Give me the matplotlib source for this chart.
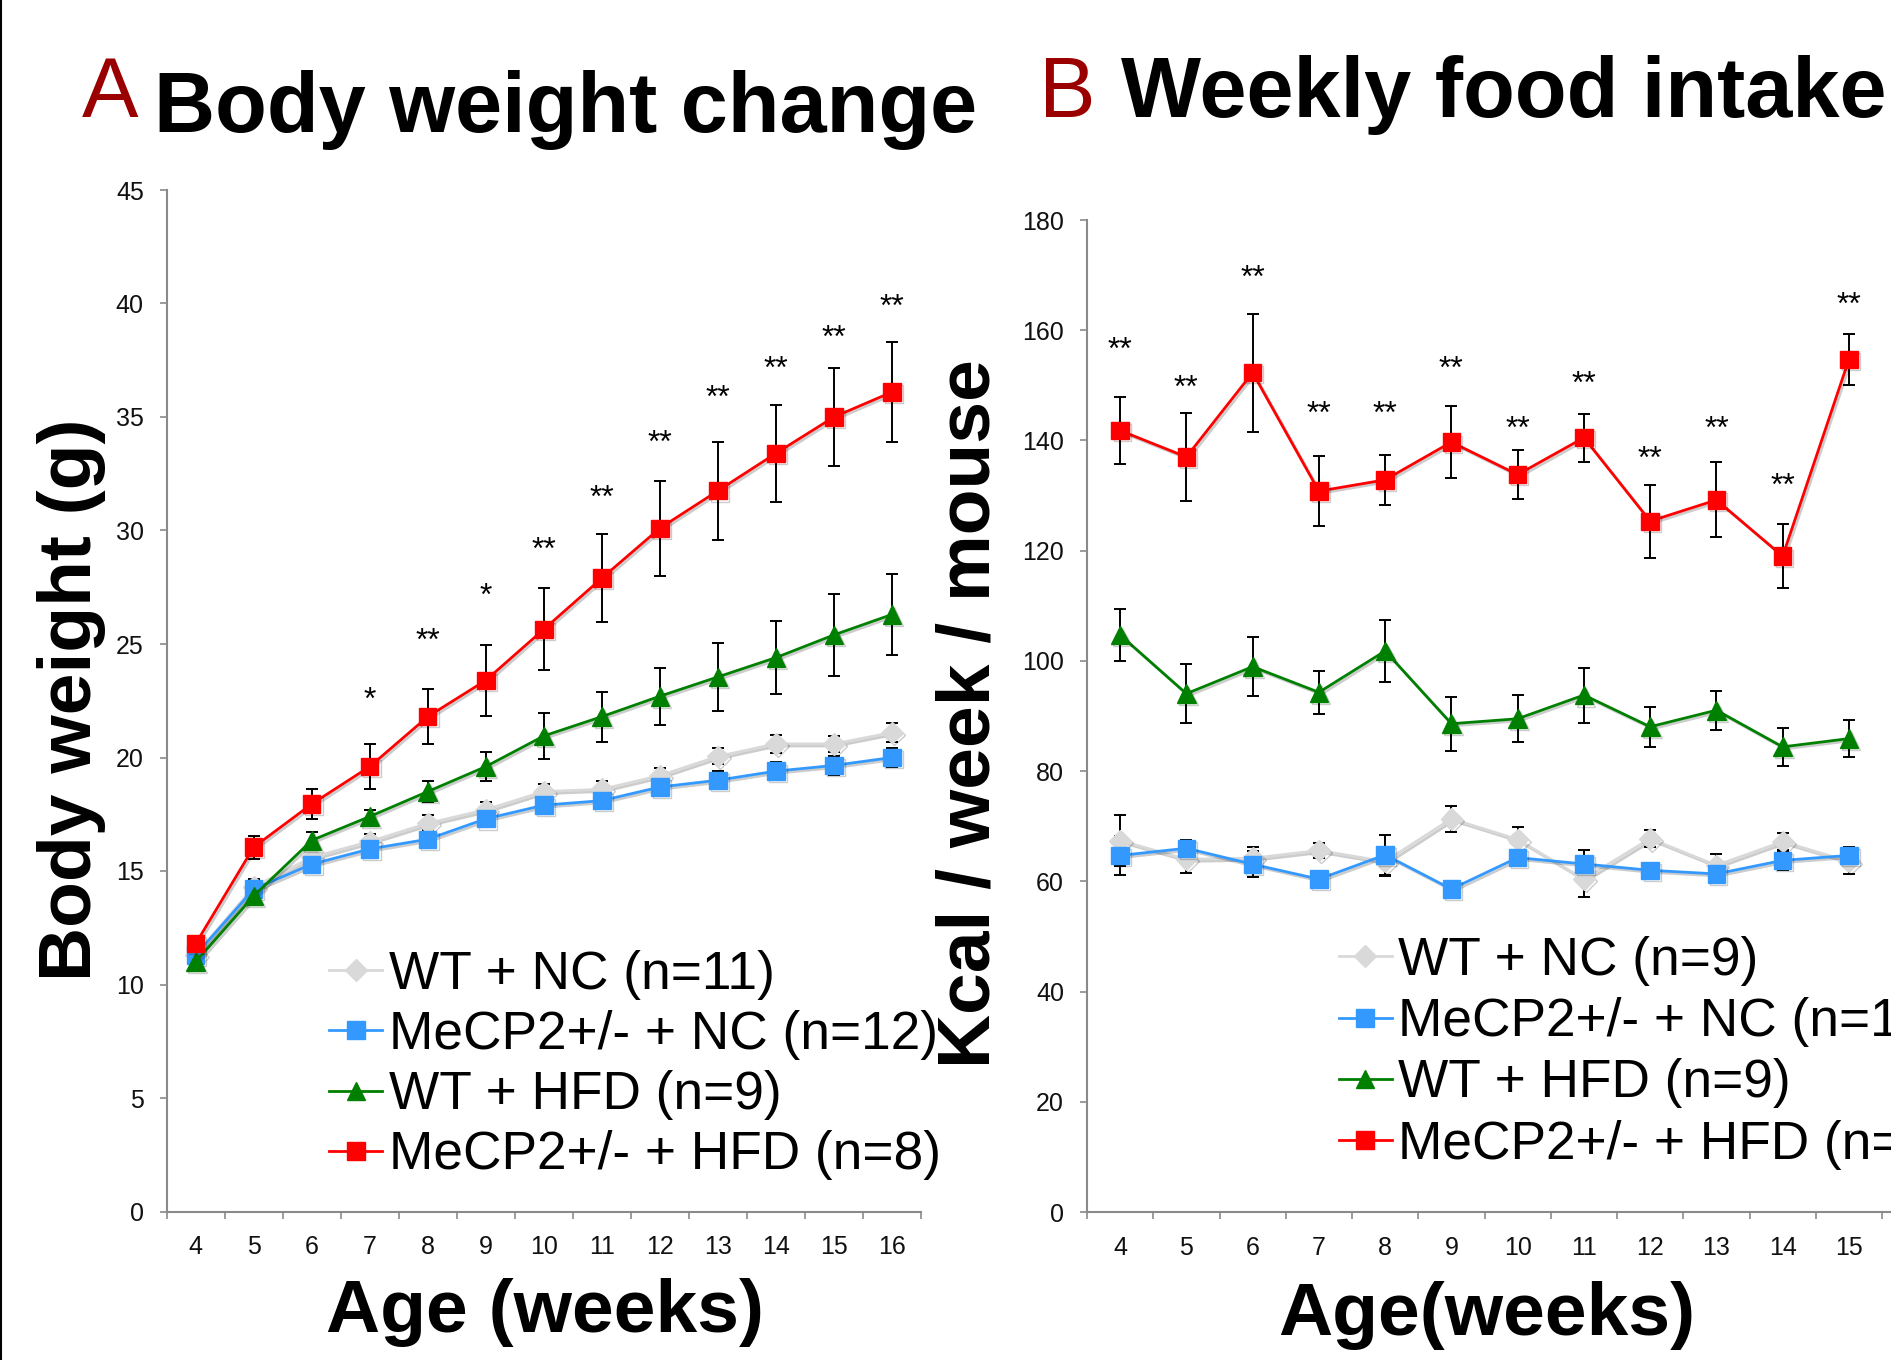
import matplotlib
matplotlib.use("Agg")
import matplotlib.pyplot as plt
import matplotlib.patheffects as pe
from matplotlib.lines import Line2D

plt.rcParams['font.family'] = ['Liberation Sans', 'DejaVu Sans']

# ---- data: body weight (panel A) ----
weeks_a = [4, 5, 6, 7, 8, 9, 10, 11, 12, 13, 14, 15, 16]
wt_nc_a = [11.3, 14.3, 15.6, 16.3, 17.1, 17.7, 18.5, 18.6, 19.2, 20.05, 20.6, 20.6, 21.1]
wt_nc_a_err = [0.3, 0.35, 0.35, 0.35, 0.35, 0.35, 0.35, 0.35, 0.35, 0.35, 0.4, 0.35, 0.4]
ko_nc_a = [11.3, 14.2, 15.3, 15.97, 16.4, 17.3, 17.9, 18.1, 18.7, 19.0, 19.4, 19.65, 20.0]
ko_nc_a_err = [0.3, 0.4, 0.35, 0.35, 0.4, 0.35, 0.4, 0.35, 0.35, 0.4, 0.4, 0.4, 0.4]
wt_hfd_a = [11.0, 13.9, 16.35, 17.4, 18.5, 19.6, 20.95, 21.8, 22.7, 23.55, 24.4, 25.4, 26.3]
wt_hfd_a_err = [0.3, 0.35, 0.35, 0.3, 0.45, 0.65, 1.0, 1.1, 1.25, 1.5, 1.6, 1.8, 1.8]
ko_hfd_a = [11.8, 16.05, 17.95, 19.6, 21.8, 23.4, 25.65, 27.9, 30.1, 31.75, 33.4, 35.0, 36.1]
ko_hfd_a_err = [0.3, 0.5, 0.65, 1.0, 1.2, 1.55, 1.8, 1.95, 2.1, 2.15, 2.15, 2.15, 2.2]
stars_a = ['', '', '', '*', '**', '*', '**', '**', '**', '**', '**', '**', '**']
stars_a_y = [0, 0, 0, 22.8, 25.4, 27.4, 29.4, 31.7, 34.1, 36.1, 37.4, 38.75, 40.1]

# ---- data: weekly food intake (panel B) ----
weeks_b = [4, 5, 6, 7, 8, 9, 10, 11, 12, 13, 14, 15]
wt_nc_b = [67.4, 64.0, 64.2, 65.6, 63.6, 71.35, 67.6, 60.4, 67.75, 62.9, 67.2, 63.6]
wt_nc_b_err = [4.6, 2.4, 2.1, 1.4, 2.6, 2.4, 2.2, 3.3, 1.5, 2.1, 1.5, 2.2]
ko_nc_b = [64.7, 66.0, 63.1, 60.4, 64.8, 58.6, 64.3, 63.15, 62.0, 61.35, 63.8, 64.7]
ko_nc_b_err = [3.5, 1.5, 2.4, 1.5, 3.6, 1.4, 1.4, 2.5, 1.0, 1.6, 1.7, 1.5]
wt_hfd_b = [104.7, 94.05, 98.95, 94.3, 101.8, 88.6, 89.5, 93.8, 88.05, 91.05, 84.4, 85.9]
wt_hfd_b_err = [4.8, 5.4, 5.4, 3.9, 5.6, 4.9, 4.3, 5.0, 3.6, 3.5, 3.4, 3.3]
ko_hfd_b = [141.8, 137.0, 152.3, 130.8, 132.85, 139.7, 133.8, 140.5, 125.35, 129.2, 119.0, 154.7]
ko_hfd_b_err = [6.0, 8.0, 10.7, 6.3, 4.5, 6.6, 4.5, 4.35, 6.6, 6.8, 5.8, 4.7]
stars_b = ['**'] * 12
stars_b_y = [157.5, 150.6, 170.6, 145.9, 145.9, 154.1, 143.2, 151.4, 137.75, 143.2, 132.85, 165.6]

labels_a = ['WT + NC (n=11)', 'MeCP2+/- + NC (n=12)', 'WT + HFD (n=9)', 'MeCP2+/- + HFD (n=8)']
labels_b = ['WT + NC (n=9)', 'MeCP2+/- + NC (n=12)', 'WT + HFD (n=9)', 'MeCP2+/- + HFD (n=8)']

colors = ['#d9d9d9', '#3399ff', '#008000', '#ff0000']
markers = ['D', 's', '^', 's']
msizes = [11, 12.5, 13.5, 12.5]

W, H = 1891, 1360
fig = plt.figure(figsize=(W / 100, H / 100), dpi=100)

shadow = [pe.SimpleLineShadow(offset=(1.5, -1.5), shadow_color='k', alpha=0.2), pe.Normal()]
spine_c = '#8a8a8a'


def setup_axes(ax, weeks, ymax, ystep):
    n = len(weeks)
    ax.set_xlim(-0.5, 12.5)
    ax.set_ylim(0, ymax)
    for s in ['top', 'right']:
        ax.spines[s].set_visible(False)
    for s in ['left', 'bottom']:
        ax.spines[s].set_color(spine_c)
        ax.spines[s].set_linewidth(1.5)
    ax.set_yticks(range(0, ymax + 1, ystep))
    ax.set_xticks([i - 0.5 for i in range(14)])
    ax.set_xticklabels([])
    ax.set_xticks(range(n), minor=True)
    ax.set_xticklabels([str(w) for w in weeks], minor=True)
    ax.tick_params(axis='both', which='major', direction='out', length=5, width=1.2,
                   color=spine_c, labelsize=18, labelcolor='#111111', pad=11.5)
    ax.tick_params(axis='x', which='minor', length=0, labelsize=18, labelcolor='#111111', pad=17)


def draw_series(ax, series, errs):
    x = list(range(len(series[0])))
    for vals, err, c, m, ms in zip(series, errs, colors, markers, msizes):
        ax.errorbar(x, vals, yerr=err, fmt='none', ecolor='black', elinewidth=1.4,
                    capsize=4.5, capthick=1.4, zorder=2)
        ax.plot(x, vals, color=c, marker=m, ms=ms, mec=c, lw=2, zorder=3,
                path_effects=shadow)


def add_legend(ax, labels, left_px, top_px, spacing):
    handles = [Line2D([], [], color=c, marker=m, ms=ms, mec=c, lw=2)
               for c, m, ms in zip(colors, markers, msizes)]
    ax.legend(handles, labels, loc='upper left',
              bbox_to_anchor=(left_px / W, 1 - top_px / H), bbox_transform=fig.transFigure,
              frameon=False, fontsize=38.3, handlelength=1.0, handletextpad=0.12,
              labelspacing=spacing, borderpad=0, borderaxespad=0, numpoints=1)


# ---- panel A ----
axA = fig.add_axes([166.7 / W, 1 - 1211.5 / H, 754.3 / W, (1211.5 - 190) / H])
setup_axes(axA, weeks_a, 45, 5)
draw_series(axA, [wt_nc_a, ko_nc_a, wt_hfd_a, ko_hfd_a],
            [wt_nc_a_err, ko_nc_a_err, wt_hfd_a_err, ko_hfd_a_err])
for i, (s, y) in enumerate(zip(stars_a, stars_a_y)):
    if s:
        axA.annotate(s, (i, y), xytext=(0, -5), textcoords='offset points',
                     ha='center', va='center', fontsize=23)
add_legend(axA, labels_a, 329, 950, 0.19)

# ---- panel B ----
axB = fig.add_axes([1087 / W, 1 - 1212 / H, 861.3 / W, (1212 - 220) / H])
setup_axes(axB, weeks_b, 180, 20)
draw_series(axB, [wt_nc_b, ko_nc_b, wt_hfd_b, ko_hfd_b],
            [wt_nc_b_err, ko_nc_b_err, wt_hfd_b_err, ko_hfd_b_err])
for i, (s, y) in enumerate(zip(stars_b, stars_b_y)):
    axB.annotate(s, (i, y), xytext=(0, -5), textcoords='offset points',
                 ha='center', va='center', fontsize=23)
add_legend(axB, labels_b, 1338.6, 936, 0.21)

# ---- titles and axis labels ----
dark_red = '#9b0000'
fig.text(81.6 / W, 1 - 116.7 / H, 'A', color=dark_red, fontsize=61, ha='left', va='baseline')
fig.text(154 / W, 1 - 131.7 / H, 'Body weight change', fontsize=61, fontweight='bold',
         ha='left', va='baseline')
fig.text(1038.6 / W, 1 - 116.7 / H, 'B', color=dark_red, fontsize=61, ha='left', va='baseline')
fig.text(1121 / W, 1 - 116.7 / H, 'Weekly food intake', fontsize=61, fontweight='bold',
         ha='left', va='baseline')

fig.text(72 / W, 1 - 700 / H, 'Body weight (g)', rotation=90, fontsize=54, fontweight='bold',
         ha='center', va='center')
fig.text(970 / W, 1 - 714 / H, 'Kcal / week / mouse', rotation=90, fontsize=54,
         fontweight='bold', ha='center', va='center')
fig.text(545 / W, 1 - 1331.7 / H, 'Age (weeks)', fontsize=54, fontweight='bold',
         ha='center', va='baseline')
fig.text(1278.6 / W, 1 - 1335 / H, 'Age(weeks)', fontsize=54, fontweight='bold',
         ha='left', va='baseline')

# thin border line at the left edge
fig.add_artist(Line2D([0.0005, 0.0005], [0, 1], color='black', lw=1.5, transform=fig.transFigure))

fig.savefig('out.png', dpi=100)
